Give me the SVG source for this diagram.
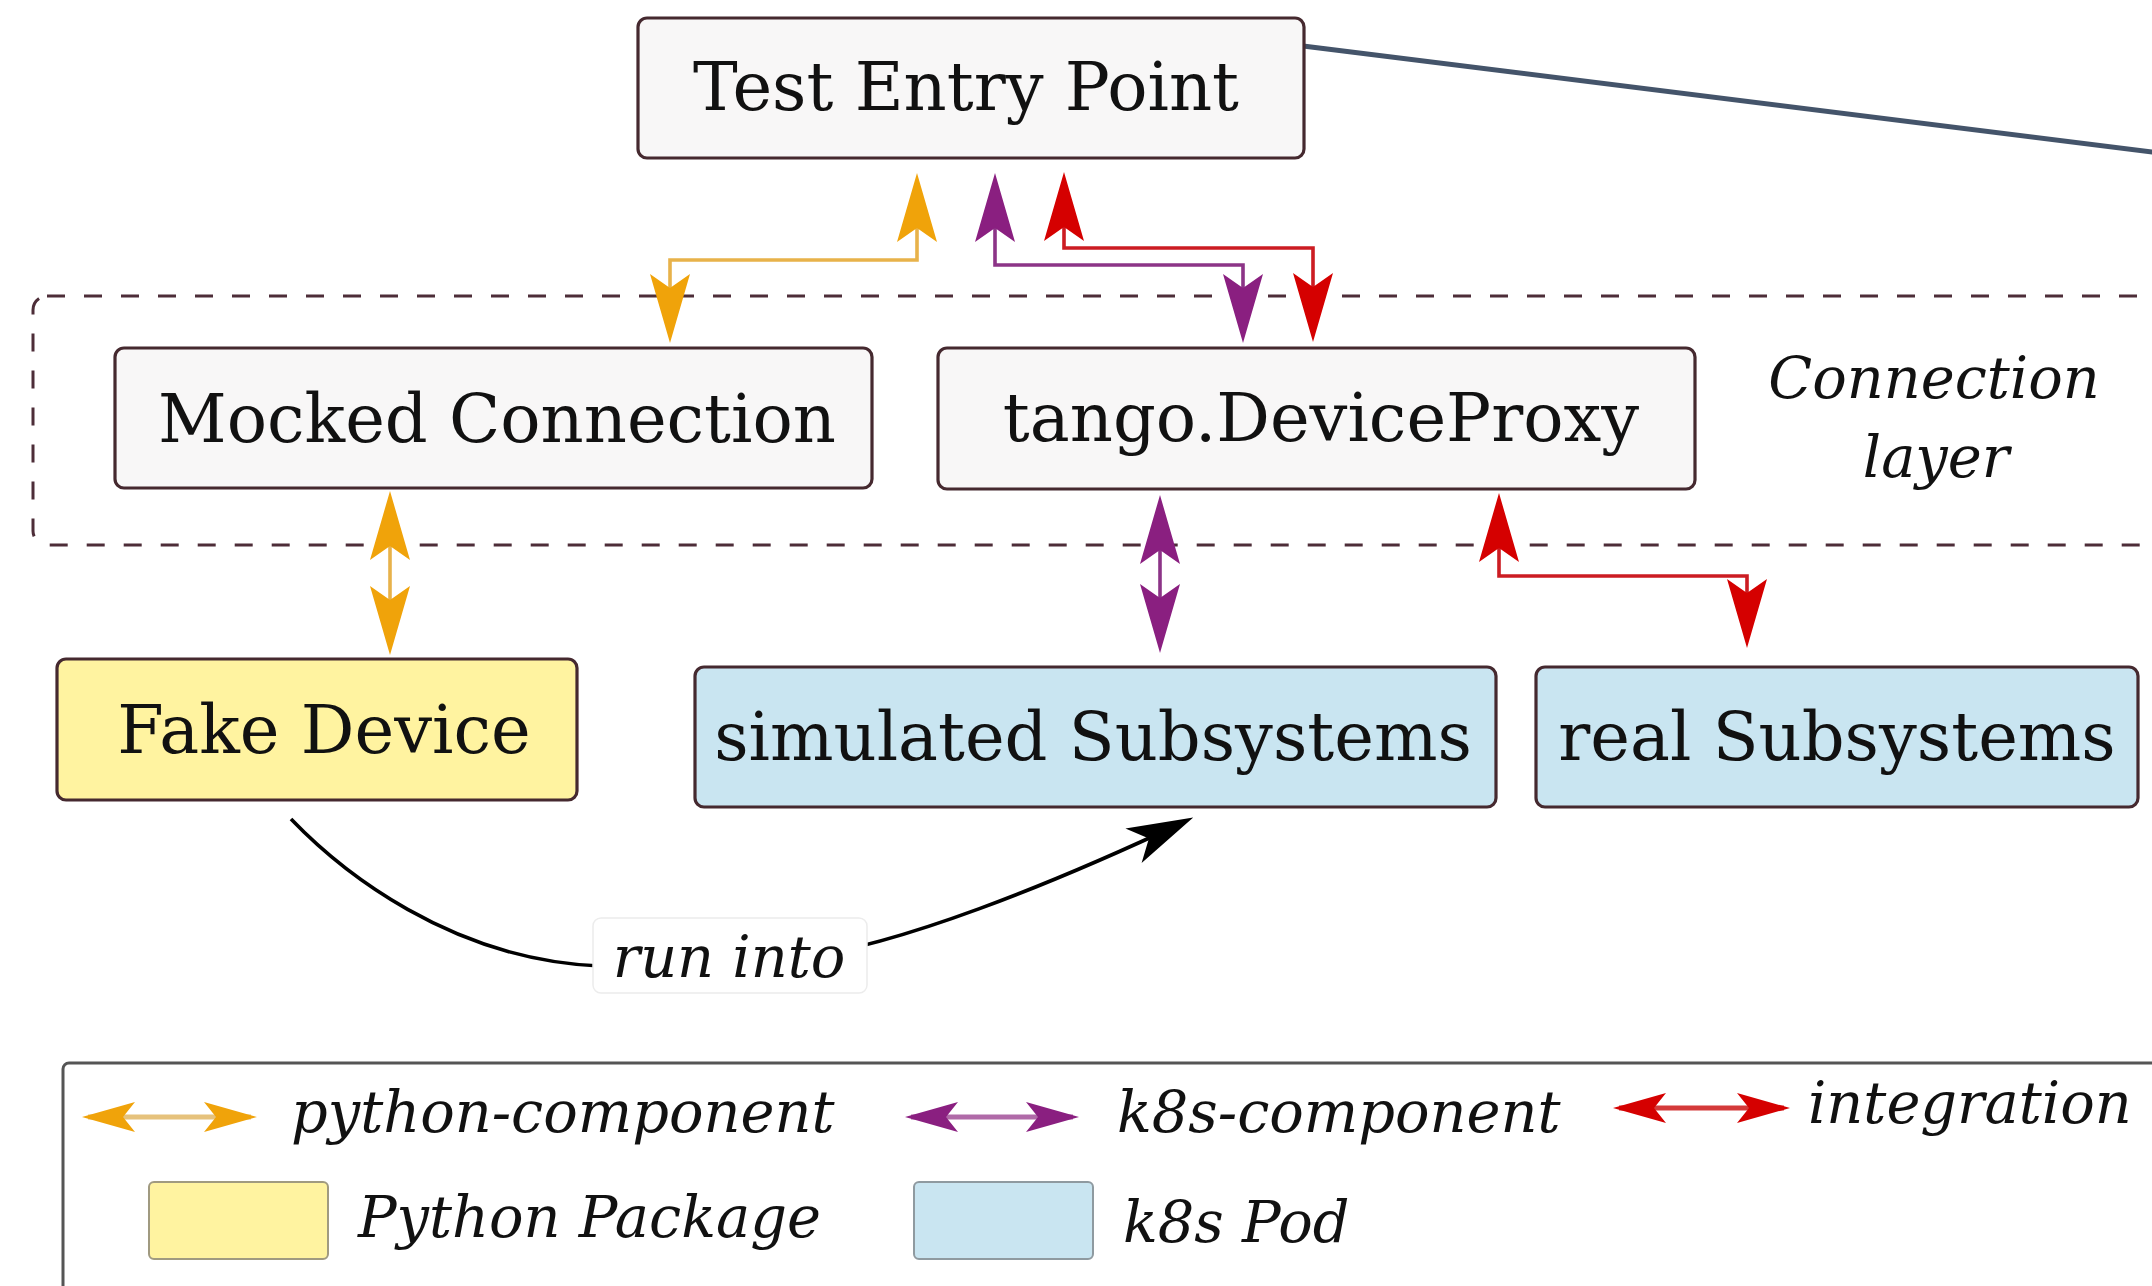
<svg xmlns="http://www.w3.org/2000/svg" width="2152" height="1286" viewBox="0 0 2152 1286">
  <style>
    .node { stroke: #45292f; stroke-width: 3.2; }
    .plain { fill: #f8f7f7; }
    .pkg { fill: #fff3a0; }
    .pod { fill: #c9e5f1; }
    .label { font-family: "DejaVu Serif", "Liberation Serif", serif; font-size: 67px; fill: #111; text-anchor: middle; }
    .note { font-family: "DejaVu Serif", "Liberation Serif", serif; font-style: italic; font-size: 57.4px; fill: #111; }
    .mid { text-anchor: middle; }
    .edge { fill: none; stroke-width: 3.6; }
    .py { stroke: #e8b24a; }
    .k8s { stroke: #8c3487; }
    .int { stroke: #cc1c22; }
  </style>
  <defs>
    <!-- concave arrowheads, tip sits 8px past the path end -->
    <marker id="hOrange" markerUnits="userSpaceOnUse" orient="auto-start-reverse" viewBox="-70 -22 80 44" refX="0" refY="0" markerWidth="80" markerHeight="44">
      <path d="M8,0 L-61,-20 L-47,0 L-61,20 Z" fill="#f0a30a"/>
    </marker>
    <marker id="hPurple" markerUnits="userSpaceOnUse" orient="auto-start-reverse" viewBox="-70 -22 80 44" refX="0" refY="0" markerWidth="80" markerHeight="44">
      <path d="M8,0 L-61,-20 L-47,0 L-61,20 Z" fill="#8a1f80"/>
    </marker>
    <marker id="hRed" markerUnits="userSpaceOnUse" orient="auto-start-reverse" viewBox="-70 -22 80 44" refX="0" refY="0" markerWidth="80" markerHeight="44">
      <path d="M8,0 L-61,-20 L-47,0 L-61,20 Z" fill="#d50000"/>
    </marker>
    <marker id="hBlack" markerUnits="userSpaceOnUse" orient="auto" viewBox="-70 -22 80 44" refX="0" refY="0" markerWidth="80" markerHeight="44">
      <path d="M8,0 L-58,-19 L-41,0 L-58,19 Z" fill="#000"/>
    </marker>
    <!-- smaller heads for the legend -->
    <marker id="lOrange" markerUnits="userSpaceOnUse" orient="auto-start-reverse" viewBox="-50 -17 58 34" refX="0" refY="0" markerWidth="58" markerHeight="34">
      <path d="M6,0 L-47,-15 L-35,0 L-47,15 Z" fill="#f0a30a"/>
    </marker>
    <marker id="lPurple" markerUnits="userSpaceOnUse" orient="auto-start-reverse" viewBox="-50 -17 58 34" refX="0" refY="0" markerWidth="58" markerHeight="34">
      <path d="M6,0 L-47,-15 L-35,0 L-47,15 Z" fill="#8a1f80"/>
    </marker>
    <marker id="lRed" markerUnits="userSpaceOnUse" orient="auto-start-reverse" viewBox="-50 -17 58 34" refX="0" refY="0" markerWidth="58" markerHeight="34">
      <path d="M6,0 L-47,-15 L-35,0 L-47,15 Z" fill="#d50000"/>
    </marker>
  </defs>

  <rect width="2152" height="1286" fill="#ffffff"/>

  <!-- connection layer frame -->
  <g id="connection-layer">
    <rect x="33" y="296" width="2200" height="249" rx="14" fill="none" stroke="#4d2d38" stroke-width="3" stroke-dasharray="18 19"/>
    <text class="note mid" x="1934" y="398">Connection</text>
    <text class="note mid" x="1936" y="477">layer</text>
  </g>

  <!-- line leaving the entry point to the right -->
  <line x1="1287" y1="44" x2="2160" y2="153" stroke="#44546a" stroke-width="5"/>

  <g id="test-entry-point">
    <rect class="node plain" x="638" y="18" width="666" height="140" rx="9"/>
    <text class="label" x="966" y="110">Test Entry Point</text>
  </g>

  <g id="mocked-connection">
    <rect class="node plain" x="115" y="348" width="757" height="140" rx="9"/>
    <text class="label" x="497" y="442">Mocked Connection</text>
  </g>

  <g id="device-proxy">
    <rect class="node plain" x="938" y="348" width="757" height="141" rx="9"/>
    <text class="label" x="1321" y="441">tango.DeviceProxy</text>
  </g>

  <g id="fake-device">
    <rect class="node pkg" x="57" y="659" width="520" height="141" rx="9"/>
    <text class="label" x="324" y="753">Fake Device</text>
  </g>

  <g id="simulated-subsystems">
    <rect class="node pod" x="695" y="667" width="801" height="140" rx="9"/>
    <text class="label" x="1093" y="760">simulated Subsystems</text>
  </g>

  <g id="real-subsystems">
    <rect class="node pod" x="1536" y="667" width="602" height="140" rx="9"/>
    <text class="label" x="1837" y="760">real Subsystems</text>
  </g>

  <g id="connectors">
    <path class="edge py" d="M917,181 V260 H670 V335" marker-start="url(#hOrange)" marker-end="url(#hOrange)"/>
    <path class="edge k8s" d="M995,181 V265 H1243 V335" marker-start="url(#hPurple)" marker-end="url(#hPurple)"/>
    <path class="edge int" d="M1064,180 V248 H1313 V334" marker-start="url(#hRed)" marker-end="url(#hRed)"/>
    <path class="edge py" d="M390,499 V647" marker-start="url(#hOrange)" marker-end="url(#hOrange)"/>
    <path class="edge k8s" d="M1160,503 V645" marker-start="url(#hPurple)" marker-end="url(#hPurple)"/>
    <path class="edge int" d="M1499,501 V576 H1747 V640" marker-start="url(#hRed)" marker-end="url(#hRed)"/>
    <path class="edge" stroke="#000" d="M291,819 C340,870 450,960 600,966 M800,958 C900,945 1050,885 1186,821" marker-end="url(#hBlack)"/>
    <g id="run-into-label">
      <rect x="593" y="918" width="274" height="75" rx="8" fill="#ffffff" stroke="#ececec" stroke-width="1.5"/>
      <text class="note mid" x="729" y="977">run into</text>
    </g>
  </g>

  <g id="legend">
    <rect x="63" y="1063" width="2150" height="300" rx="6" fill="#ffffff" stroke="#555555" stroke-width="3"/>
    <line x1="88" y1="1117" x2="251" y2="1117" stroke="#e6c27c" stroke-width="5" marker-start="url(#lOrange)" marker-end="url(#lOrange)"/>
    <text class="note" x="291" y="1132">python-component</text>
    <line x1="911" y1="1117" x2="1073" y2="1117" stroke="#b06aa8" stroke-width="5" marker-start="url(#lPurple)" marker-end="url(#lPurple)"/>
    <text class="note" x="1117" y="1132">k8s-component</text>
    <line x1="1619" y1="1108" x2="1784" y2="1108" stroke="#d43a3a" stroke-width="5" marker-start="url(#lRed)" marker-end="url(#lRed)"/>
    <text class="note" x="1808" y="1123">integration</text>
    <rect x="149" y="1182" width="179" height="77" rx="5" fill="#fff3a0" stroke="#a09a80" stroke-width="2"/>
    <text class="note" x="358" y="1237">Python Package</text>
    <rect x="914" y="1182" width="179" height="77" rx="5" fill="#c9e5f1" stroke="#8f9aa0" stroke-width="2"/>
    <text class="note" x="1123" y="1242">k8s Pod</text>
  </g>
</svg>
